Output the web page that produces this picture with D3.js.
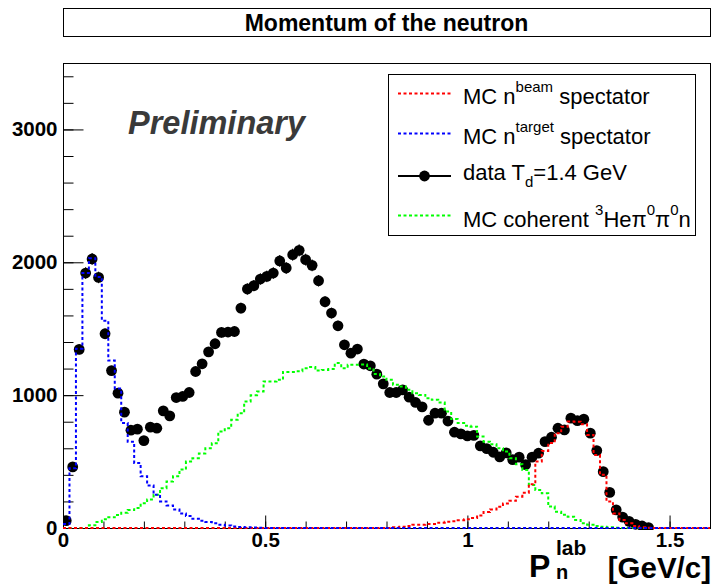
<!DOCTYPE html>
<html>
<head>
<meta charset="utf-8">
<script src="https://cdn.jsdelivr.net/npm/d3@7"></script>
<style>
  html, body { margin: 0; padding: 0; background: #fff; }
  svg { display: block; }
  text { font-family: "Liberation Sans", Arial, Helvetica, sans-serif; }
</style>
</head>
<body>
<div id="chart"></div>
<script>
// ---------------- data ----------------
const chartTitle = "Momentum of the neutron";
const xDomain = [0, 1.6];
const yDomain = [0, 3500];
const binWidth = 0.016;           // GeV/c, 100 bins over 0..1.6
const xMajorTicks = [0, 0.5, 1, 1.5];
const xTickLabels = ["0", "0.5", "1", "1.5"];
const yMajorTicks = [0, 1000, 2000, 3000];
const yTickLabels = ["0", "1000", "2000", "3000"];

// data T_d = 1.4 GeV (bins 0..90)
const dataCounts = [
  55, 460, 1344, 1919, 2025, 1886, 1462, 1185, 1015, 872,
  736, 744, 658, 759, 751, 882, 844, 982, 990, 1020,
  1178, 1236, 1326, 1387, 1472, 1475, 1479, 1655, 1799, 1824,
  1874, 1894, 1919, 2010, 1957, 2057, 2090, 2020, 1977, 1861,
  1703, 1618, 1522, 1379, 1316, 1347, 1234, 1221, 1158, 1085,
  1020, 1020, 1040, 985, 945, 912, 811, 864, 864, 805,
  721, 708, 693, 697, 618, 597, 570, 535, 565, 515,
  533, 477, 533, 563, 650, 683, 751, 738, 827, 808,
  819, 714, 583, 424, 268, 136, 82, 50, 28, 15,
  3
];

// MC n^target spectator (blue), 100 bins
const mcTarget = [
  30, 450, 1350, 1920, 2030, 1890, 1560, 1260, 1050, 790,
  650, 490, 390, 320, 250, 200, 170, 140, 110, 90,
  70, 55, 45, 35, 25, 18, 12, 8, 5, 3,
  1, 0, 0, 0, 0, 0, 0, 0, 0, 0,
  0, 0, 0, 0, 0, 0, 0, 0, 0, 0,
  0, 0, 0, 0, 0, 0, 0, 0, 0, 0,
  0, 0, 0, 0, 0, 0, 0, 0, 0, 0,
  0, 0, 0, 0, 0, 0, 0, 0, 0, 0,
  0, 0, 0, 0, 0, 0, 0, 0, 0, 0,
  0, 0, 0, 0, 0, 0, 0, 0, 0, 0
];

// MC n^beam spectator (red), 100 bins
const mcBeam = [
  0, 0, 0, 0, 0, 0, 0, 0, 0, 0,
  0, 0, 0, 0, 0, 0, 0, 0, 0, 0,
  0, 0, 0, 0, 0, 0, 0, 0, 0, 0,
  0, 0, 0, 0, 0, 0, 0, 0, 0, 0,
  0, 0, 0, 0, 0, 0, 0, 0, 0, 0,
  0, 5, 10, 15, 25, 25, 30, 30, 40, 47,
  50, 58, 65, 75, 95, 120, 140, 160, 185, 205,
  236, 265, 330, 500, 580, 640, 714, 763, 801, 800,
  780, 700, 550, 400, 200, 110, 60, 35, 15, 5,
  2, 0, 0, 0, 0, 0, 0, 0, 0, 0
];

// MC coherent 3He pi0 pi0 n (green), 100 bins
const mcCoherent = [
  0, 0, 0, 0, 20, 45, 65, 80, 98, 115,
  135, 150, 186, 215, 250, 300, 350, 390, 440, 500,
  525, 560, 600, 638, 726, 751, 814, 864, 952, 1000,
  1027, 1103, 1103, 1115, 1175, 1175, 1180, 1203, 1211, 1185,
  1190, 1196, 1241, 1203, 1228, 1228, 1230, 1200, 1160, 1140,
  1115, 1078, 1065, 1040, 1015, 1002, 977, 965, 944, 876,
  820, 790, 770, 763, 688, 650, 630, 600, 575, 525,
  480, 437, 324, 286, 261, 161, 123, 100, 85, 60,
  35, 25, 15, 10, 5, 2, 0, 0, 0, 0,
  0, 0, 0, 0, 0, 0, 0, 0, 0, 0
];

// ---------------- layout ----------------
const W = 713, H = 585;
const plot = { left: 63, right: 710, top: 63, bottom: 528 };
const font = '"Liberation Sans", Arial, Helvetica, sans-serif';

const svg = d3.select("#chart").append("svg")
  .attr("width", W).attr("height", H)
  .attr("viewBox", `0 0 ${W} ${H}`);

svg.append("rect").attr("width", W).attr("height", H).attr("fill", "#fff");

const x = d3.scaleLinear().domain(xDomain).range([plot.left, plot.right]);
const y = d3.scaleLinear().domain(yDomain).range([plot.bottom, plot.top]);

// title box
svg.append("rect")
  .attr("x", 63.5).attr("y", 8.5).attr("width", 647).attr("height", 28)
  .attr("fill", "#fff").attr("stroke", "#000").attr("stroke-width", 1);
svg.append("text")
  .attr("x", 386.5).attr("y", 30.5)
  .attr("text-anchor", "middle")
  .attr("font-size", 23).attr("font-weight", "bold")
  .text(chartTitle);

// clip
svg.append("clipPath").attr("id", "clip")
  .append("rect")
  .attr("x", plot.left).attr("y", plot.top - 10)
  .attr("width", plot.right - plot.left).attr("height", plot.bottom - plot.top + 12);

// axes
const yAxisMinor = d3.axisLeft(y).tickValues(d3.range(0, 3501, 200))
  .tickSize(-10).tickFormat("");
const yAxisMajor = d3.axisLeft(y).tickValues(yMajorTicks)
  .tickSize(-20).tickPadding(6)
  .tickFormat((d, i) => yTickLabels[i]);
const xAxisMinor = d3.axisBottom(x).tickValues(d3.range(0, 16).map(i => i / 10))
  .tickSize(-7).tickFormat("");
const xAxisMajor = d3.axisBottom(x).tickValues(xMajorTicks)
  .tickSize(-13).tickPadding(4)
  .tickFormat((d, i) => xTickLabels[i]);

function styleAxis(g) {
  g.select(".domain").remove();
  g.selectAll("line").attr("stroke", "#000").attr("stroke-width", 1);
  g.selectAll("text").attr("fill", "#000")
    .attr("font-family", font).attr("font-size", 20.5).attr("font-weight", "bold");
}

svg.append("g").attr("transform", `translate(${plot.left + 0.5},0)`).call(yAxisMinor).call(styleAxis);
svg.append("g").attr("transform", `translate(${plot.left + 0.5},0)`).call(yAxisMajor).call(styleAxis);
svg.append("g").attr("transform", `translate(0,${plot.bottom + 0.5})`).call(xAxisMinor).call(styleAxis);
svg.append("g").attr("transform", `translate(0,${plot.bottom + 0.5})`).call(xAxisMajor).call(styleAxis);

// frame
svg.append("rect")
  .attr("x", plot.left + 0.5).attr("y", plot.top + 0.5)
  .attr("width", plot.right - plot.left).attr("height", plot.bottom - plot.top)
  .attr("fill", "none").attr("stroke", "#000").attr("stroke-width", 1);

// data points
const plotG = svg.append("g").attr("clip-path", "url(#clip)");
const dataPts = dataCounts.map((v, i) => ({ xc: (i + 0.5) * binWidth, v: v }));

plotG.append("g").selectAll("line.err").data(dataPts).enter().append("line")
  .attr("x1", d => x(d.xc)).attr("x2", d => x(d.xc))
  .attr("y1", d => y(d.v - Math.sqrt(d.v))).attr("y2", d => y(d.v + Math.sqrt(d.v)))
  .attr("stroke", "#000").attr("stroke-width", 1);
plotG.append("g").selectAll("line.errx").data(dataPts).enter().append("line")
  .attr("x1", d => x(d.xc - binWidth / 2)).attr("x2", d => x(d.xc + binWidth / 2))
  .attr("y1", d => y(d.v)).attr("y2", d => y(d.v))
  .attr("stroke", "#000").attr("stroke-width", 1);
plotG.append("g").selectAll("circle").data(dataPts).enter().append("circle")
  .attr("cx", d => x(d.xc)).attr("cy", d => y(d.v)).attr("r", 5.4)
  .attr("fill", "#000");

// MC step histograms
function stepPath(vals) {
  const pts = vals.map((v, i) => [i * binWidth, v]);
  pts.push([vals.length * binWidth, vals[vals.length - 1]]);
  return d3.line().x(d => x(d[0])).y(d => y(d[1])).curve(d3.curveStepAfter)(pts);
}
const mcSeries = [
  { vals: mcCoherent, color: "#00ff00" },
  { vals: mcBeam, color: "#ff0000" },
  { vals: mcTarget, color: "#0000ff" }
];
mcSeries.forEach(s => {
  plotG.append("path")
    .attr("d", stepPath(s.vals))
    .attr("fill", "none").attr("stroke", s.color)
    .attr("stroke-width", 2).attr("stroke-dasharray", "3,2.5");
});

// Preliminary
svg.append("text")
  .attr("x", 128).attr("y", 134)
  .attr("font-size", 32.5).attr("font-weight", "bold").attr("font-style", "italic")
  .attr("fill", "#3a3a3a")
  .text("Preliminary");

// legend
const legendEntries = [
  { kind: "mc", color: "#ff0000", y: 93.5, base: 103.5,
    segs: [{ t: "MC n" }, { t: "beam", s: "sup" }, { t: " spectator" }] },
  { kind: "mc", color: "#0000ff", y: 133.5, base: 144,
    segs: [{ t: "MC n" }, { t: "target", s: "sup" }, { t: " spectator" }] },
  { kind: "data", color: "#000", y: 176, base: 180,
    segs: [{ t: "data T" }, { t: "d", s: "sub" }, { t: "=1.4 GeV" }] },
  { kind: "mc", color: "#00ff00", y: 215.5, base: 226.5,
    segs: [{ t: "MC coherent " }, { t: "3", s: "sup" }, { t: "Heπ" }, { t: "0", s: "sup" },
           { t: "π" }, { t: "0", s: "sup" }, { t: "n" }] }
];

const leg = svg.append("g");
leg.append("rect")
  .attr("x", 388.5).attr("y", 74.5).attr("width", 307).attr("height", 161)
  .attr("fill", "#fff").attr("stroke", "#000").attr("stroke-width", 1);

legendEntries.forEach(e => {
  if (e.kind === "mc") {
    leg.append("line").attr("x1", 398).attr("x2", 451).attr("y1", e.y).attr("y2", e.y)
      .attr("stroke", e.color).attr("stroke-width", 2).attr("stroke-dasharray", "3,2.5");
  } else {
    leg.append("line").attr("x1", 398).attr("x2", 451).attr("y1", e.y).attr("y2", e.y)
      .attr("stroke", "#000").attr("stroke-width", 2);
    leg.append("circle").attr("cx", 424.5).attr("cy", e.y).attr("r", 5.4).attr("fill", "#000");
  }
  const t = leg.append("text").attr("x", 463).attr("y", e.base)
    .attr("font-size", 22).attr("fill", "#000");
  let shift = 0;
  e.segs.forEach(sg => {
    let target = 0, size = 22;
    if (sg.s === "sup") { target = -12; size = 15; }
    if (sg.s === "sub") { target = 7; size = 15; }
    t.append("tspan").attr("dy", target - shift).attr("font-size", size).text(sg.t);
    shift = target;
  });
});

// x axis title
const xt = svg.append("g").attr("font-weight", "bold").attr("fill", "#000");
xt.append("text").attr("x", 529).attr("y", 577).attr("font-size", 32).text("P");
xt.append("text").attr("x", 556).attr("y", 555).attr("font-size", 21).text("lab");
xt.append("text").attr("x", 556).attr("y", 579).attr("font-size", 20).text("n");
xt.append("text").attr("x", 711).attr("y", 578).attr("text-anchor", "end").attr("font-size", 29.5).text("[GeV/c]");
</script>
</body>
</html>
